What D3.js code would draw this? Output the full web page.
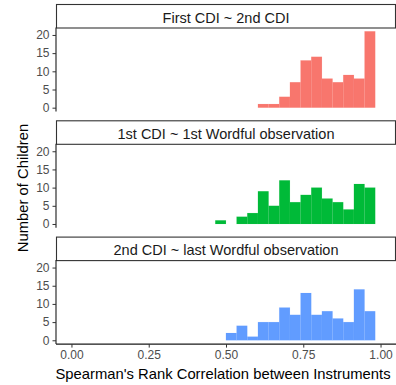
<!DOCTYPE html>
<html>
<head>
<meta charset="utf-8">
<script src="https://cdn.jsdelivr.net/npm/d3@7"></script>
<style>
  html, body { margin: 0; padding: 0; background: #fff; }
  svg { display: block; font-family: "Liberation Sans", Arial, sans-serif; }
</style>
</head>
<body>
<div id="chart"></div>
<script>
// histogram bins (shared across facets)
const binStart = 0.0168;
const binWidth = 0.0345;

const panelTitles = [
  "First CDI ~ 2nd CDI",
  "1st CDI ~ 1st Wordful observation",
  "2nd CDI ~ last Wordful observation"
];
const panelColors = ["#F8766D", "#00BA38", "#619CFF"];

// counts per bin, 28 bins each
const firstVsSecond = [0,0,0,0,0,0,0,0,0,0,0,0,0,0,0,0,0,1,1,3,7,13,14,8,7,9,8,21];
const cdi1VsWordful1 = [0,0,0,0,0,0,0,0,0,0,0,0,0,1,0,2,3,9,5,12,6,8,10,7,6,4,11,10];
const cdi2VsWordfulLast = [0,0,0,0,0,0,0,0,0,0,0,0,0,0,2,4,1,5,5,9,7,13,7,8,6,5,14,8];
const panelCounts = [firstVsSecond, cdi1VsWordful1, cdi2VsWordfulLast];

const xTicks = [0, 0.25, 0.5, 0.75, 1];
const yTicks = [0, 5, 10, 15, 20];

const W = 396, H = 385;
const left = 56, right = 396;
const stripH = 23.5, panelH = 84, gap = 8.8, top0 = 4;
const tickFont = 12;

const svg = d3.select("#chart").append("svg").attr("width", W).attr("height", H);

const xScale = d3.scaleLinear().domain([-0.05, 1.05]).range([left, right]);

panelCounts.forEach((counts, i) => {
  const stripTop = top0 + i * (stripH + panelH + gap);
  const pTop = stripTop + stripH;
  const pBottom = pTop + panelH;
  const y = d3.scaleLinear().domain([-1.05, 22.05]).range([pBottom, pTop]);

  // strip
  svg.append("rect")
    .attr("x", left + 0.5).attr("y", stripTop + 0.5)
    .attr("width", right - left - 1).attr("height", stripH)
    .attr("fill", "#fff").attr("stroke", "#333").attr("stroke-width", 1.1);
  svg.append("text")
    .attr("x", (left + right) / 2).attr("y", stripTop + 18.8)
    .attr("text-anchor", "middle").attr("font-size", 14.5).attr("fill", "#1a1a1a")
    .text(panelTitles[i]);

  // bars
  const g = svg.append("g");
  counts.forEach((c, k) => {
    const x0 = xScale(binStart + k * binWidth);
    const x1 = xScale(binStart + (k + 1) * binWidth);
    g.append("rect")
      .attr("x", x0).attr("width", x1 - x0)
      .attr("y", y(c)).attr("height", Math.max(0, y(0) - y(c)))
      .attr("fill", panelColors[i])
      .attr("stroke", panelColors[i]).attr("stroke-opacity", 0.12)
      .attr("stroke-width", 0.6);
  });

  // y axis
  const yAxis = d3.axisLeft(y).tickValues(yTicks).tickSize(3.5).tickPadding(3);
  const ya = svg.append("g").attr("transform", `translate(${left},0)`).call(yAxis);
  ya.select(".domain").attr("stroke", "#1a1a1a").attr("stroke-width", 1.1)
    .attr("d", `M0,${pTop}V${pBottom}`);
  ya.selectAll(".tick line").attr("stroke", "#333");
  ya.selectAll(".tick text").attr("fill", "#4d4d4d").attr("font-size", tickFont)
    .attr("font-family", "Liberation Sans, Arial, sans-serif");

  if (i === panelCounts.length - 1) {
    const xAxis = d3.axisBottom(xScale).tickValues(xTicks).tickSize(3.5).tickPadding(3)
      .tickFormat(d3.format(".2f"));
    const xa = svg.append("g").attr("transform", `translate(0,${pBottom})`).call(xAxis);
    xa.select(".domain").attr("stroke", "#1a1a1a").attr("stroke-width", 1.1)
      .attr("d", `M${left},0H${right}`);
    xa.selectAll(".tick line").attr("stroke", "#333");
    xa.selectAll(".tick text").attr("fill", "#4d4d4d").attr("font-size", tickFont)
      .attr("font-family", "Liberation Sans, Arial, sans-serif");

    svg.append("text")
      .attr("x", 223).attr("y", 379)
      .attr("text-anchor", "middle").attr("font-size", 14.8).attr("fill", "#000")
      .text("Spearman's Rank Correlation between Instruments");
  }
});

// y axis title
svg.append("text")
  .attr("transform", "translate(27.5,188) rotate(-90)")
  .attr("text-anchor", "middle").attr("font-size", 14.8).attr("fill", "#000")
  .text("Number of Children");
</script>
</body>
</html>
